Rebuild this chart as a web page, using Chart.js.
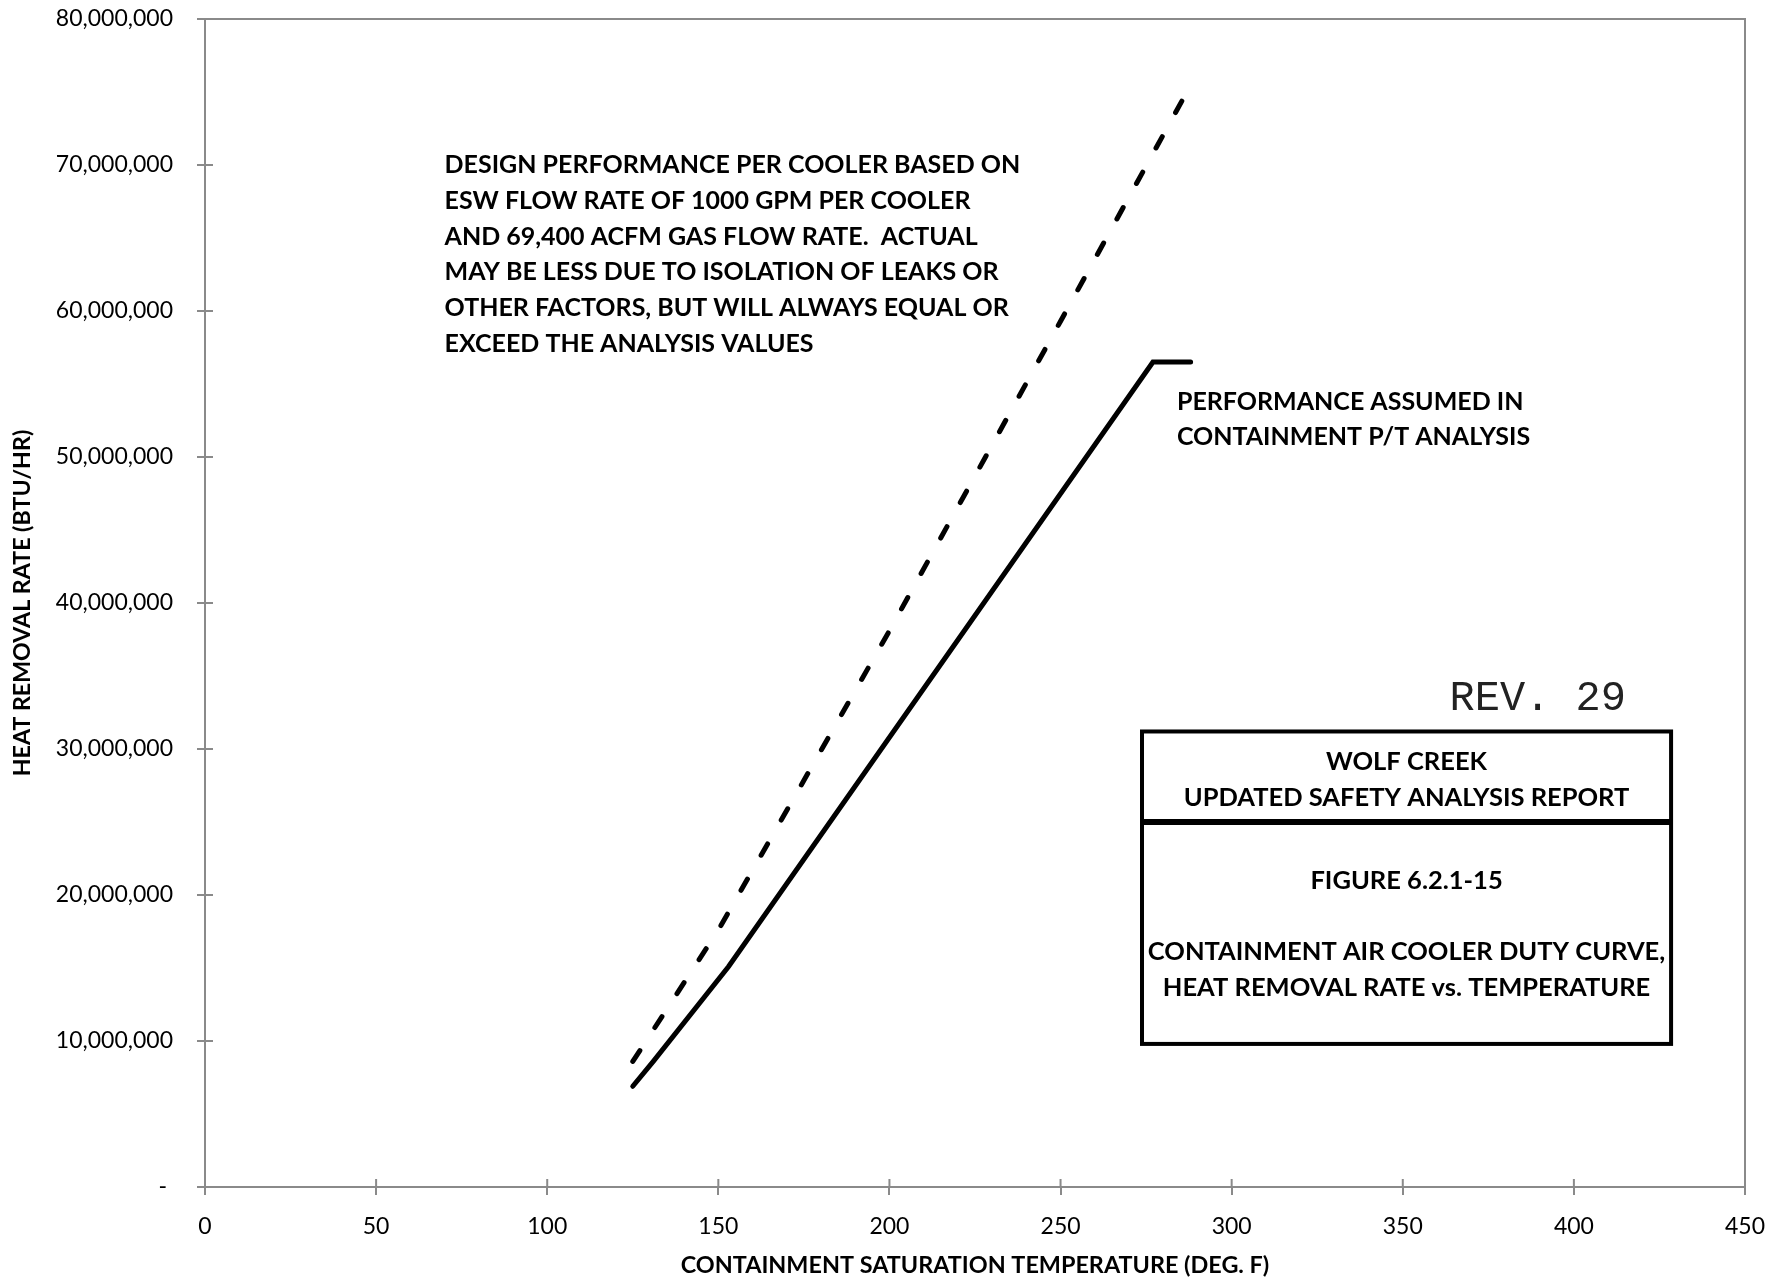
<!DOCTYPE html>
<html>
<head>
<meta charset="utf-8">
<script src="https://cdn.jsdelivr.net/npm/chart.js@4.4.1/dist/chart.umd.min.js"></script>
<style>
  html, body { margin: 0; padding: 0; background: #fff; }
</style>
</head>
<body>
<canvas id="dutyCurve" width="1785" height="1279"></canvas>
<script>
// values: temperature in deg F, heat removal in BTU/hr
const designTemp = [125, 150, 200, 250, 285.5];
const designRate = [8600000, 17600000, 38100000, 59300000, 74400000];

const analysisTemp = [125, 131, 153, 277, 288];
const analysisRate = [6900000, 8600000, 15100000, 56500000, 56500000];

const xTicks = [0, 50, 100, 150, 200, 250, 300, 350, 400, 450];
const yTicks = [0, 10000000, 20000000, 30000000, 40000000, 50000000, 60000000, 70000000, 80000000];

const designNote = [
  "DESIGN PERFORMANCE PER COOLER BASED ON",
  "ESW FLOW RATE OF 1000 GPM PER COOLER",
  "AND 69,400 ACFM GAS FLOW RATE.  ACTUAL",
  "MAY BE LESS DUE TO ISOLATION OF LEAKS OR",
  "OTHER FACTORS, BUT WILL ALWAYS EQUAL OR",
  "EXCEED THE ANALYSIS VALUES"
];
const analysisNote = ["PERFORMANCE ASSUMED IN", "CONTAINMENT P/T ANALYSIS"];
const boxTitle = ["WOLF CREEK", "UPDATED SAFETY ANALYSIS REPORT"];
const boxCaption = ["FIGURE 6.2.1-15", "CONTAINMENT AIR COOLER DUTY CURVE,", "HEAT REMOVAL RATE vs. TEMPERATURE"];
const revision = "REV. 29";

const AXIS_GREY = "#8a8a8a";

function toPoints(xs, ys) {
  return xs.map(function (x, i) { return { x: x, y: ys[i] }; });
}

// plot frame, ticks that cross the axis, and the text boxes
const figureExtras = {
  id: "figureExtras",
  beforeDatasetsDraw: function (chart) {
    const ctx = chart.ctx;
    const a = chart.chartArea;
    const xs = chart.scales.x;
    const ys = chart.scales.y;
    ctx.save();
    ctx.strokeStyle = AXIS_GREY;
    ctx.lineWidth = 2;
    ctx.beginPath();
    ctx.moveTo(a.left, a.top);
    ctx.lineTo(a.right, a.top);
    ctx.lineTo(a.right, a.bottom);
    xs.ticks.forEach(function (t) {
      const px = xs.getPixelForValue(t.value);
      ctx.moveTo(px, a.bottom);
      ctx.lineTo(px, a.bottom - 8);
    });
    ys.ticks.forEach(function (t) {
      const py = ys.getPixelForValue(t.value);
      ctx.moveTo(a.left, py);
      ctx.lineTo(a.left + 8, py);
    });
    ctx.stroke();
    ctx.restore();
  },
  afterDraw: function (chart) {
    const ctx = chart.ctx;
    const xs = chart.scales.x;
    const ys = chart.scales.y;
    ctx.save();
    ctx.fillStyle = "#000";
    ctx.textBaseline = "middle";
    ctx.font = "bold 25px Lato";

    // design note
    ctx.textAlign = "left";
    let nx = xs.getPixelForValue(70);
    let ny = ys.getPixelForValue(70000000);
    designNote.forEach(function (line, i) {
      ctx.fillText(line, nx, ny + i * 35.8);
    });

    // analysis note
    nx = xs.getPixelForValue(284);
    ny = ys.getPixelForValue(53800000);
    analysisNote.forEach(function (line, i) {
      ctx.fillText(line, nx, ny + i * 35.5);
    });

    // title block
    const bl = xs.getPixelForValue(273.8);
    const br = xs.getPixelForValue(428.4);
    const bt = ys.getPixelForValue(31200000);
    const bd = ys.getPixelForValue(25000000);
    const bb = ys.getPixelForValue(9800000);
    ctx.fillStyle = "#fff";
    ctx.fillRect(bl, bt, br - bl, bb - bt);
    ctx.strokeStyle = "#000";
    ctx.lineWidth = 4;
    ctx.strokeRect(bl, bt, br - bl, bb - bt);
    ctx.lineWidth = 6;
    ctx.beginPath();
    ctx.moveTo(bl, bd);
    ctx.lineTo(br, bd);
    ctx.stroke();

    const cx = (bl + br) / 2;
    ctx.fillStyle = "#000";
    ctx.textAlign = "center";
    ctx.font = "bold 25.5px Lato";
    ctx.fillText(boxTitle[0], cx, bt + 30);
    ctx.fillText(boxTitle[1], cx, bt + 66);
    ctx.fillText(boxCaption[0], cx, bt + 149);
    ctx.fillText(boxCaption[1], cx, bt + 220);
    ctx.fillText(boxCaption[2], cx, bt + 256);

    // revision stamp
    ctx.font = "42px 'Liberation Mono', 'Courier New', monospace";
    ctx.textAlign = "right";
    ctx.fillStyle = "#222";
    ctx.fillText(revision, xs.getPixelForValue(415.2), ys.getPixelForValue(33400000));
    ctx.restore();
  }
};

const canvas = document.getElementById("dutyCurve");

new Chart(canvas, {
  type: "scatter",
  data: {
    datasets: [
      {
        label: "Design performance",
        data: toPoints(designTemp, designRate),
        showLine: true,
        borderColor: "#000",
        borderWidth: 5,
        borderDash: [13, 27.5],
        borderCapStyle: "round",
        pointRadius: 0,
        tension: 0,
      },
      {
        label: "Analysis performance",
        data: toPoints(analysisTemp, analysisRate),
        showLine: true,
        borderColor: "#000",
        borderWidth: 5,
        borderCapStyle: "round",
        borderJoinStyle: "miter",
        pointRadius: 0,
        tension: 0,
      },
    ],
  },
  options: {
    responsive: false,
    animation: false,
    layout: { padding: { top: 0, right: 40, left: 0, bottom: 0 } },
    plugins: {
      legend: { display: false },
      tooltip: { enabled: false },
    },
    scales: {
      x: {
        type: "linear",
        min: 0,
        max: 450,
        afterBuildTicks: function (s) { s.ticks = xTicks.map(function (v) { return { value: v }; }); },
        afterFit: function (s) {
          s.height = 92;
          s.paddingLeft = 0;
          s.paddingRight = 0;
        },
        grid: { drawOnChartArea: false, color: AXIS_GREY, lineWidth: 2, tickLength: 8 },
        border: { color: AXIS_GREY, width: 2 },
        ticks: { color: "#000", font: { family: "Lato", size: 23 }, padding: 18, maxRotation: 0, autoSkip: false },
        title: {
          display: true,
          text: "CONTAINMENT SATURATION TEMPERATURE (DEG. F)",
          color: "#000",
          font: { family: "Lato", size: 23.4, weight: "bold" },
          padding: { top: 0, bottom: 0 },
        },
      },
      y: {
        type: "linear",
        min: 0,
        max: 80000000,
        afterBuildTicks: function (s) { s.ticks = yTicks.map(function (v) { return { value: v }; }); },
        afterFit: function (s) {
          s.width = 205;
          s.paddingTop = 19;
          s.paddingBottom = 0;
        },
        grid: { drawOnChartArea: false, color: AXIS_GREY, lineWidth: 2, tickLength: 8 },
        border: { color: AXIS_GREY, width: 2 },
        ticks: {
          color: "#000",
          font: { family: "Lato", size: 23 },
          padding: 24,
          autoSkip: false,
          callback: function (v) { return v === 0 ? "- " : v.toLocaleString("en-US"); },
        },
        title: {
          display: true,
          text: "HEAT REMOVAL RATE (BTU/HR)",
          color: "#000",
          font: { family: "Lato", size: 23.2, weight: "bold" },
          padding: { top: 9, bottom: 0 },
        },
      },
    },
  },
  plugins: [figureExtras],
});
</script>
</body>
</html>
